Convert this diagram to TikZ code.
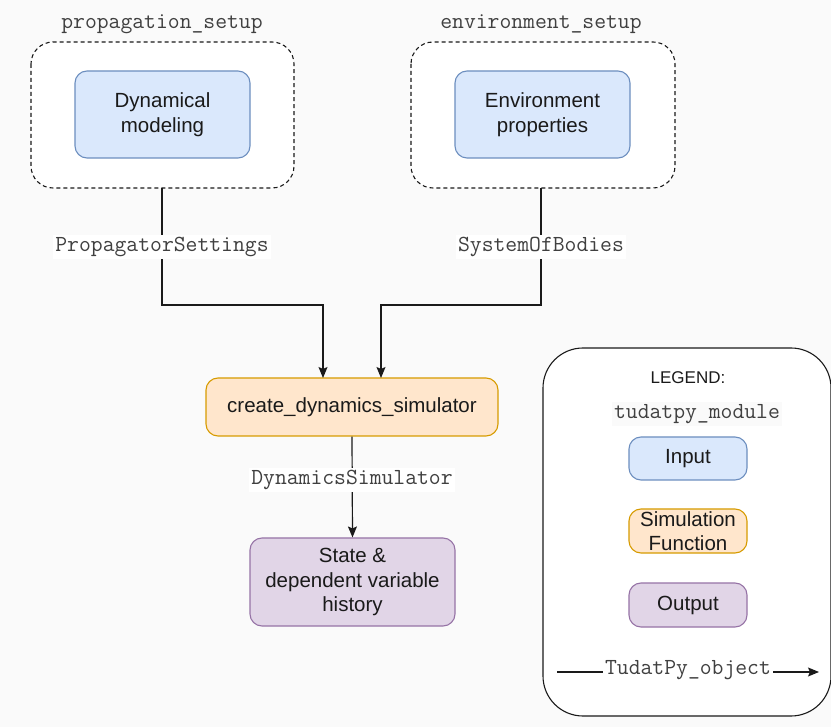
\documentclass[tikz,border=0pt]{standalone}
\usepackage{fontspec}
\setmainfont{Liberation Sans}
\usetikzlibrary{arrows.meta}
\definecolor{bg}{HTML}{FAFAFA}
\definecolor{inFill}{HTML}{DAE8FC}
\definecolor{inDraw}{HTML}{6C8EBF}
\definecolor{simFill}{HTML}{FFE6CC}
\definecolor{simDraw}{HTML}{D79B00}
\definecolor{outFill}{HTML}{E1D5E7}
\definecolor{outDraw}{HTML}{9673A6}
\definecolor{ink}{HTML}{1A1A1A}
\definecolor{codegray}{HTML}{404040}
\tikzset{
  box/.style={rounded corners=12pt, line width=1.1pt, align=center,
    font=\fontsize{20.5}{24.5}\selectfont, text=ink, inner sep=0pt},
  inbox/.style={box, fill=inFill, draw=inDraw},
  simbox/.style={box, fill=simFill, draw=simDraw},
  outbox/.style={box, fill=outFill, draw=outDraw},
  legbox/.style={box, font=\fontsize{17}{20}\selectfont, rounded corners=9pt},
  group/.style={draw=ink, dashed, dash pattern=on 4pt off 3pt, line width=1.1pt,
    fill=white, rounded corners=22pt},
  code/.style={font=\ttfamily\fontsize{23}{25}\selectfont, text=codegray, inner sep=2pt},
  codelbl/.style={code, fill=white},
  conn/.style={draw=ink, line width=1.2pt,
    -{Stealth[length=11pt,width=9pt,inset=2pt]}},
}
\begin{document}
\begin{tikzpicture}[x=1pt, y=-1pt]
  % canvas
  \fill[bg] (0,0) rectangle (831,727);
  \useasboundingbox (0,0) rectangle (831,727);

  % setup groups
  \draw[group] (31,42) rectangle (294,188);
  \draw[group] (411,42) rectangle (675,188);
  \node[code] (propmod) at (162,24) {propagation\_setup};
  \node[code] (envmod) at (541,24) {environment\_setup};
  \coordinate (propout) at (162,188);
  \coordinate (envout) at (541,188);

  % input boxes
  \node[inbox, minimum width=175pt, minimum height=87pt] (dyn) at (162.5,114.5)
    {Dynamical\\modeling};
  \node[inbox, minimum width=175pt, minimum height=87pt] (env) at (542.5,114.5)
    {Environment\\properties};

  % simulation function and output
  \node[simbox, minimum width=292pt, minimum height=58pt] (sim) at (352,407)
    {create\_dynamics\_simulator};
  \node[outbox, minimum width=205pt, minimum height=88pt] (state) at (352.5,582)
    {State \&\\dependent variable\\history};

  % connectors
  \coordinate (simL) at (323,378);
  \coordinate (simR) at (381,378);
  \draw[conn] (propout) |- (323,305) -- (simL);
  \draw[conn] (envout) |- (381,305) -- (simR);
  \draw[conn] (sim.south) -- (state.north);
  \node[codelbl] (propset) at (162,247) {PropagatorSettings};
  \node[codelbl] (sysbod) at (541,247) {SystemOfBodies};
  \node[codelbl] (dynsim) at (352,480) {DynamicsSimulator};

  % legend
  \draw[draw=ink, line width=1.1pt, fill=white, rounded corners=40pt]
    (543,348) rectangle (831,716);
  \node[font=\fontsize{17}{20}\selectfont, text=ink] (legtitle) at (688,378) {LEGEND:};
  \node[code, fill=bg] (legmod) at (697,414) {tudatpy\_module};
  \node[legbox, inbox, minimum width=118pt, minimum height=43pt] (legin) at (688,458.5) {Input};
  \node[legbox, simbox, minimum width=118pt, minimum height=44pt] (legsim) at (688,531)
    {Simulation\\Function};
  \node[legbox, outbox, minimum width=118pt, minimum height=44pt] (legout) at (688,605) {Output};
  \coordinate (legA) at (557,672);
  \coordinate (legB) at (819,672);
  \draw[conn] (legA) -- (legB);
  \node[codelbl] (legobj) at (688,670) {TudatPy\_object};
\end{tikzpicture}
\end{document}
